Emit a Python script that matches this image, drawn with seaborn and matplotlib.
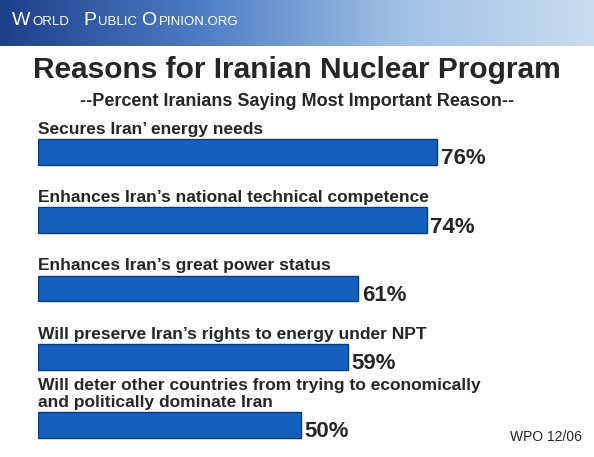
import matplotlib
matplotlib.use("Agg")
import matplotlib.pyplot as plt
import seaborn as sns
import numpy as np
import pandas as pd

reasons = ["Secures Iran\u2019 energy needs",
           "Enhances Iran\u2019s national technical competence",
           "Enhances Iran\u2019s great power status",
           "Will preserve Iran\u2019s rights to energy under NPT",
           "Will deter other countries from trying to economically\nand politically dominate Iran"]
percents = [76, 74, 61, 59, 50]

sns.set_style("white")
plt.rcParams['font.family'] = ['Liberation Sans', 'DejaVu Sans']
W, H = 594, 457
fig = plt.figure(figsize=(W/100, H/100), dpi=100)
fig.patch.set_facecolor("white")

# header banner
hax = fig.add_axes([0, 1-46/H, 1, 46/H])
grad = np.linspace(0, 1, 256)[None, :]
from matplotlib.colors import LinearSegmentedColormap
cm = LinearSegmentedColormap.from_list("h", ["#1d3f8a", "#4d7cc4", "#9fc0e6", "#c9dcef"])
hax.imshow(grad, aspect="auto", cmap=cm, extent=[0, 1, 0, 1])
hax.set_axis_off()
for x, s, fs in [(0.02, "W", 14), (0.054, "ORLD", 9.5), (0.14, "P", 14),
                 (0.165, "UBLIC", 9.5), (0.238, "O", 14), (0.267, "PINION.ORG", 9.5)]:
    hax.text(x, 0.55 if fs > 10 else 0.52, s, color="white", fontsize=fs, va="center",
             transform=hax.transAxes)

fig.text(297/W, 1-70/H, "Reasons for Iranian Nuclear Program", ha="center", va="center",
         fontsize=21.5, fontweight="bold")
fig.text(297/W, 1-101/H, "--Percent Iranians Saying Most Important Reason--", ha="center",
         va="center", fontsize=13, fontweight="bold")

top, bot = 115, 445
ax = fig.add_axes([38/W, 1-bot/H, 525/W, (bot-top)/H])
df = pd.DataFrame({"reason": reasons, "pct": percents})
sns.barplot(data=df, x="pct", y="reason", orient="h", color="#1560bd", width=0.38,
            edgecolor="#0b3a80", linewidth=1, saturation=1, ax=ax)
ax.set_xlim(0, 100)
ax.set_ylim(4.293, -0.542)
ax.set_axis_off()
for i, (r, p) in enumerate(zip(reasons, percents)):
    ax.text(0, i - 0.22, r, ha="left", va="bottom", fontsize=12.5, fontweight="bold",
            linespacing=1.2)
    ax.text(p + 0.7, i + 0.1, f"{p}%", ha="left", va="center", fontsize=16, fontweight="bold")

fig.text(510/W, 1-437/H, "WPO 12/06", ha="left", va="center", fontsize=10)
fig.savefig("out.png", dpi=100, facecolor="white")
